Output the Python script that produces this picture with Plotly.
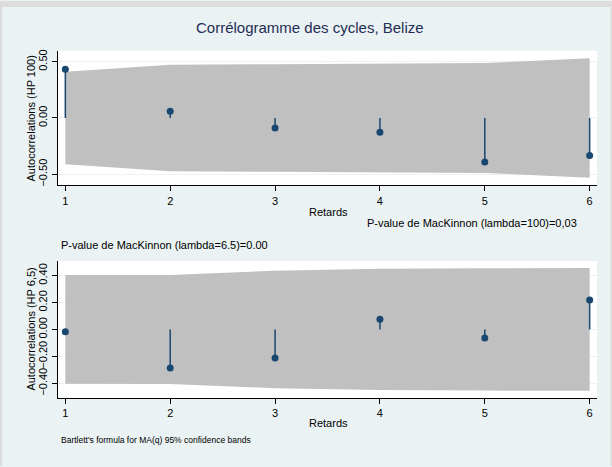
import plotly.graph_objects as go

# ---- data ----
lags = [1, 2, 3, 4, 5, 6]
acf_hp100 = [0.432, 0.059, -0.088, -0.126, -0.391, -0.333]
band_hp100 = [0.41, 0.474, 0.477, 0.480, 0.488, 0.53]
acf_hp65 = [-0.017, -0.286, -0.212, 0.076, -0.064, 0.219]
band_hp65 = [0.404, 0.405, 0.436, 0.450, 0.454, 0.456]
yticks_top = [-0.5, 0.0, 0.5]
yticks_bot = [-0.4, -0.2, 0.0, 0.2, 0.4]

title_text = "Corrélogramme des cycles, Belize"
xlabel = "Retards"
ylabel_top = "Autocorrelations (HP 100)"
ylabel_bot = "Autocorrelations (HP 6,5)"
note_top = "P-value de MacKinnon (lambda=100)=0,03"
note_bot = "P-value de MacKinnon (lambda=6.5)=0.00"
note_bartlett = "Bartlett's formula for MA(q) 95% confidence bands"

W, H = 612, 467
FONT = "Liberation Sans, Arial, sans-serif"
NAVY = "#1a476f"
BAND = "#c0c0c0"
BG = "#eaf2f3"

def px(x):
    return x / W

def py(y):
    return 1 - y / H

fig = go.Figure()

def add_panel(acf, band, xa, ya):
    fig.add_trace(go.Scatter(x=lags, y=band, mode="lines", line=dict(width=0, color=BAND),
                             xaxis=xa, yaxis=ya, showlegend=False, hoverinfo="skip"))
    fig.add_trace(go.Scatter(x=lags, y=[-b for b in band], mode="lines", line=dict(width=0, color=BAND),
                             fill="tonexty", fillcolor=BAND,
                             xaxis=xa, yaxis=ya, showlegend=False, hoverinfo="skip"))
    sx, sy = [], []
    for l, r in zip(lags, acf):
        sx += [l, l, None]
        sy += [0, r, None]
    fig.add_trace(go.Scatter(x=sx, y=sy, mode="lines", line=dict(width=1.5, color=NAVY),
                             xaxis=xa, yaxis=ya, showlegend=False))
    fig.add_trace(go.Scatter(x=lags, y=acf, mode="markers", marker=dict(size=7, color=NAVY),
                             xaxis=xa, yaxis=ya, showlegend=False))

add_panel(acf_hp100, band_hp100, "x", "y")
add_panel(acf_hp65, band_hp65, "x2", "y2")

xdom = [px(58), px(597)]
xcommon = dict(range=[0.93, 6.07], tickvals=lags, ticks="outside", ticklen=5, tickcolor="#000",
               tickwidth=1, showline=True, linecolor="#000", linewidth=1.3, showgrid=False,
               zeroline=False, tickfont=dict(family=FONT, size=11, color="#000"), domain=xdom)
ycommon = dict(ticks="outside", ticklen=5, tickcolor="#000", tickwidth=1, showline=True,
               linecolor="#000", linewidth=1.3, showgrid=True, gridcolor=BG, gridwidth=1,
               zeroline=False, tickformat=".2f", tickangle=-90,
               tickfont=dict(family=FONT, size=11, color="#000"))

fig.update_layout(
    width=W, height=H, margin=dict(l=0, r=0, t=0, b=0),
    paper_bgcolor=BG, plot_bgcolor="white",
    xaxis=dict(**xcommon, anchor="y"),
    yaxis=dict(**ycommon, range=[-0.597, 0.597], tickvals=yticks_top,
               domain=[py(185), py(50)], anchor="x"),
    xaxis2=dict(**xcommon, anchor="y2"),
    yaxis2=dict(**ycommon, range=[-0.509, 0.509], tickvals=yticks_bot,
                domain=[py(398.7), py(261)], anchor="x2"),
)

# gray outer frame strips
for x0, y0, x1, y1 in [(0, 0, W, 6), (0, 0, 2, H), (W - 1.5, 0, W, H)]:
    fig.add_shape(type="rect", xref="paper", yref="paper", x0=px(x0), x1=px(x1),
                  y0=py(y1), y1=py(y0), fillcolor="#dcdcdc", line=dict(width=0), layer="above")

def ann(text, x, y, size=11, color="#000", xanchor="center", angle=0):
    fig.add_annotation(text=text, x=px(x), y=py(y), xref="paper", yref="paper",
                       showarrow=False, xanchor=xanchor, yanchor="middle", textangle=angle,
                       font=dict(family=FONT, size=size, color=color))

ann(title_text, 310, 27, size=15, color="#1e2d53")
ann(xlabel, 328, 212)
ann(note_top, 579, 223, xanchor="right")
ann(note_bot, 59, 245, xanchor="left")
ann(xlabel, 328, 424)
ann(note_bartlett, 59, 441, size=8.5, xanchor="left")
ann(ylabel_top, 31, 118, angle=-90)
ann(ylabel_bot, 31, 330, angle=-90)

fig.write_html("out.html", config={"displayModeBar": False},
               post_script="document.body.style.margin='0';document.body.style.overflow='hidden';")
